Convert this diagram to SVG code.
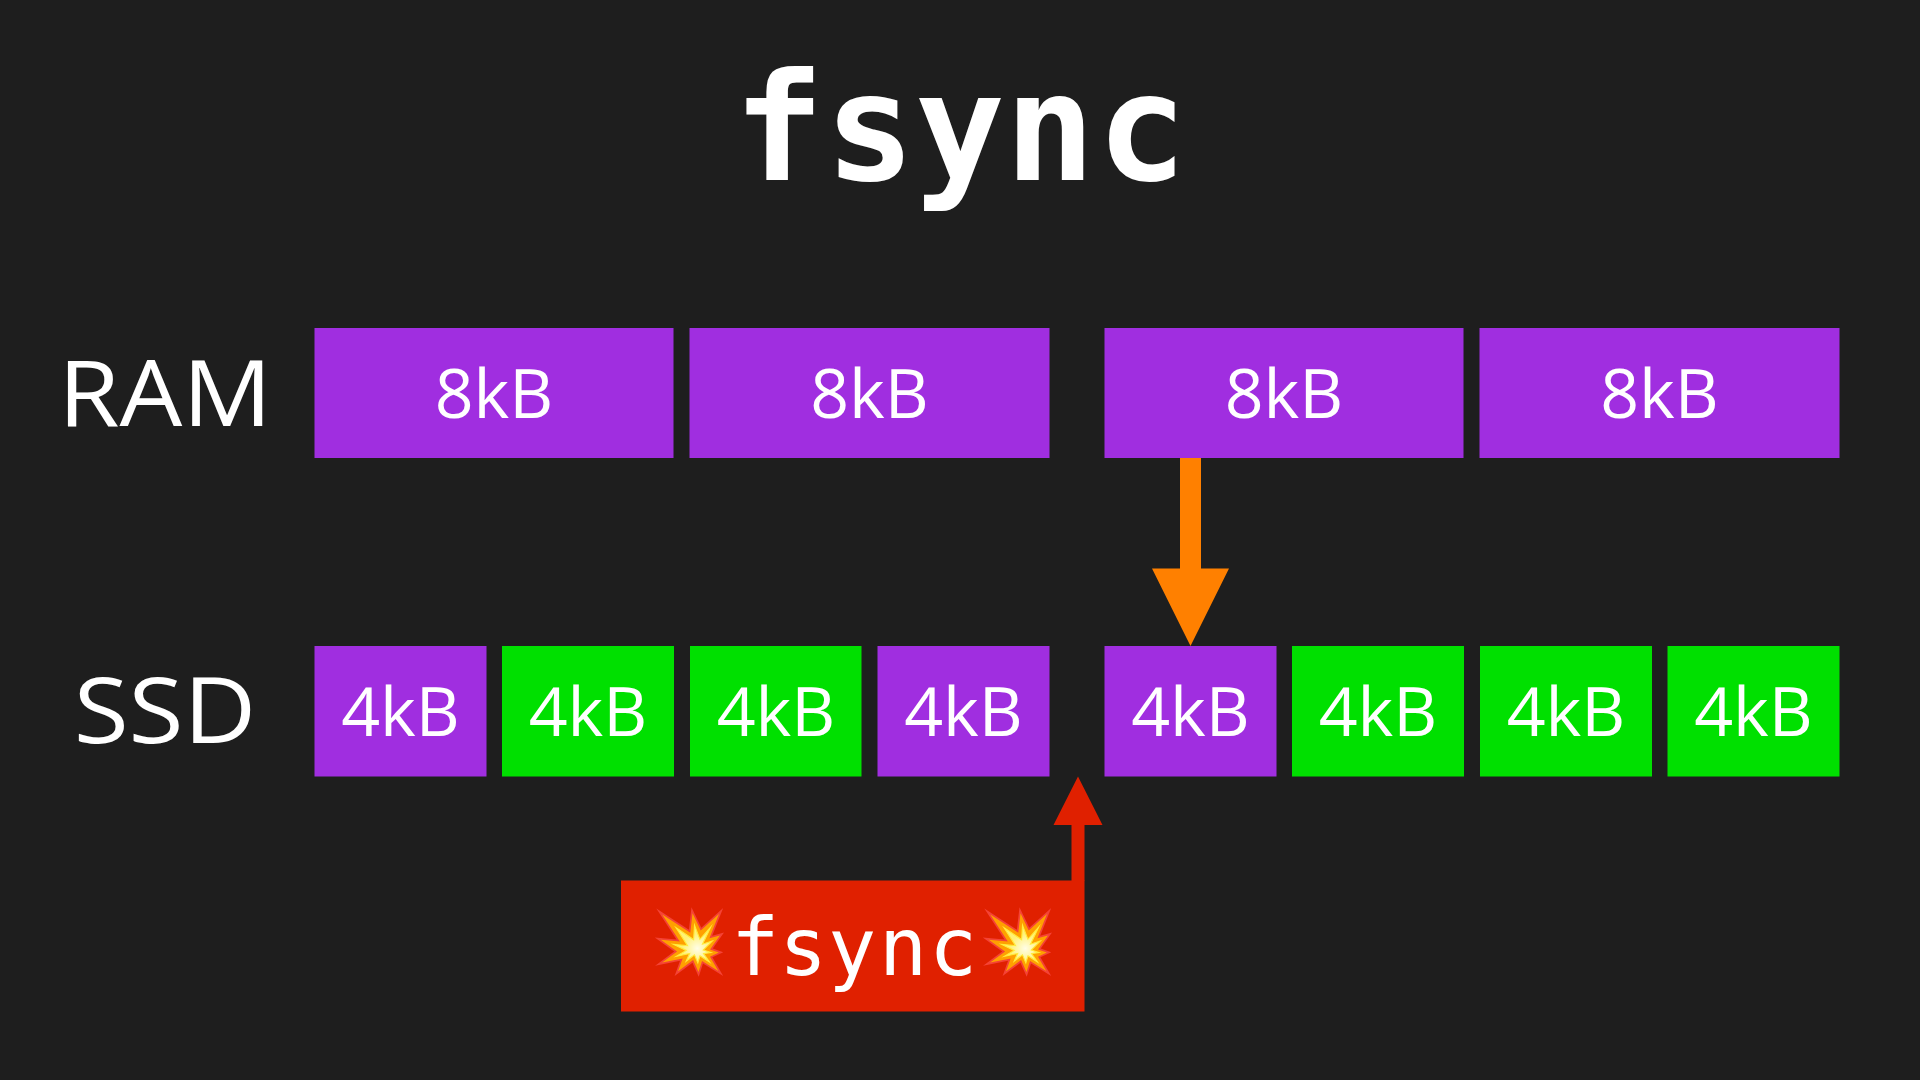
<svg xmlns="http://www.w3.org/2000/svg" width="1920" height="1080" viewBox="0 0 1920 1080">
<style>
.lbl{font-family:"Open Sans","Noto Sans",sans-serif;fill:#fff;text-anchor:middle}
.row{font-size:92px;font-weight:500}
.sz{font-size:68px;font-weight:400}
.mono{font-family:"DejaVu Sans Mono",monospace;fill:#fff;text-anchor:middle}
.em{font-family:"Noto Color Emoji",sans-serif;font-size:62px}
.p{fill:#a02ee0}.g{fill:#00e000}
</style>
<rect width="1920" height="1080" fill="#1e1e1e"/>
<g id="title"><text class="mono" font-size="150" font-weight="700" x="779 870 960 1050 1142" y="180">fsync</text></g>
<g id="label-ram"><text class="lbl row" transform="translate(165 426) scale(1.08 1)">RAM</text></g>
<g id="label-ssd"><text class="lbl row" transform="translate(165 743) scale(1.09 1)">SSD</text></g>
<g id="ram-1"><rect class="p" x="314.5" y="328" width="359" height="130"/><text class="lbl sz" x="494" y="418">8kB</text></g>
<g id="ram-2"><rect class="p" x="689.5" y="328" width="360" height="130"/><text class="lbl sz" x="869.5" y="418">8kB</text></g>
<g id="ram-3"><rect class="p" x="1104.5" y="328" width="359" height="130"/><text class="lbl sz" x="1284" y="418">8kB</text></g>
<g id="ram-4"><rect class="p" x="1479.5" y="328" width="360" height="130"/><text class="lbl sz" x="1659.5" y="418">8kB</text></g>
<g id="ssd-1"><rect class="p" x="314.5" y="646" width="172" height="130.500"/><text class="lbl sz" x="400.500" y="736">4kB</text></g>
<g id="ssd-2"><rect class="g" x="502" y="646" width="172" height="130.500"/><text class="lbl sz" x="588" y="736">4kB</text></g>
<g id="ssd-3"><rect class="g" x="690" y="646" width="171.500" height="130.500"/><text class="lbl sz" x="776" y="736">4kB</text></g>
<g id="ssd-4"><rect class="p" x="877.500" y="646" width="172" height="130.500"/><text class="lbl sz" x="963.500" y="736">4kB</text></g>
<g id="ssd-5"><rect class="p" x="1104.500" y="646" width="172" height="130.500"/><text class="lbl sz" x="1190.500" y="736">4kB</text></g>
<g id="ssd-6"><rect class="g" x="1292" y="646" width="172" height="130.500"/><text class="lbl sz" x="1378" y="736">4kB</text></g>
<g id="ssd-7"><rect class="g" x="1480" y="646" width="172" height="130.500"/><text class="lbl sz" x="1566" y="736">4kB</text></g>
<g id="ssd-8"><rect class="g" x="1667.500" y="646" width="172" height="130.500"/><text class="lbl sz" x="1753.500" y="736">4kB</text></g>
<g id="connectors">
<polygon fill="#ff8000" points="1180,458 1201,458 1201,568.500 1229,568.500 1190.500,646 1152,568.500 1180,568.500"/>
<polygon fill="#e02000" points="1071.500,881 1071.500,825 1053.500,825 1078,776.500 1102.500,825 1084.500,825 1084.500,881"/>
</g>
<g id="fsync-box"><rect fill="#e02000" x="621" y="880.500" width="463.500" height="131"/>
<text class="em" x="651" y="963">💥</text>
<text class="em" x="979" y="963">💥</text>
<text class="mono" font-size="80" x="755 803 852 903 953" y="975">fsync</text></g>
</svg>
